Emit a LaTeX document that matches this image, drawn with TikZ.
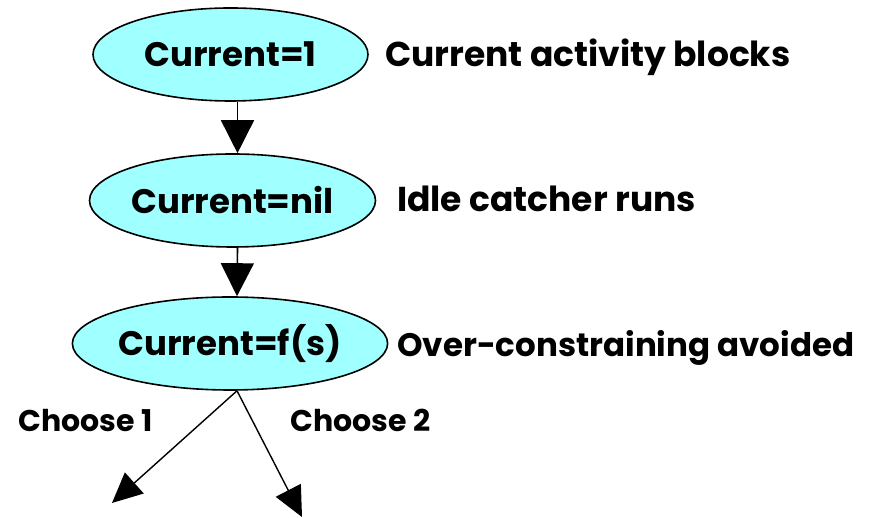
\documentclass[tikz,border=0pt]{standalone}
\usepackage{fontspec}
\setmainfont{Poppins}
\usetikzlibrary{arrows.meta,shapes.geometric}
\definecolor{statefill}{RGB}{160,255,255}
\tikzset{
  state/.style={ellipse, draw=black, line width=1.6pt, fill=statefill,
    minimum width=275pt, minimum height=93pt, inner sep=0pt,
    font=\fontsize{34}{40}\selectfont\bfseries},
  note/.style={anchor=base west, inner sep=0pt, font=\fontsize{34.5}{40}\selectfont\bfseries},
  branchlabel/.style={anchor=base west, inner sep=0pt, font=\fontsize{30}{34}\selectfont\bfseries},
  flow/.style={line width=1.6pt, -{Triangle[length=33pt,width=33pt]}},
  fork/.style={line width=1.4pt, -{Triangle[length=30pt,width=28pt]}}
}
\begin{document}
\begin{tikzpicture}[x=1pt,y=1pt]
  \useasboundingbox (0,0) rectangle (869,518);
  % states
  \node[state] (e1) at (230.5,463.5) {Current=1};
  \node[state] (e2) at (232.5,317.5) {Current=nil};
  \node[state] (e3) at (230,174.5) {Current=f(s)};
  % side notes
  \node[note] (n1) at (385,451) {Current activity blocks};
  \node[note] (n2) at (397,306) {Idle catcher runs};
  \node[note, font=\fontsize{32.5}{38}\selectfont\bfseries] (n3) at (397,161) {Over-constraining avoided};
  % branch labels
  \node[branchlabel] (b1) at (18,86) {Choose 1};
  \node[branchlabel] (b2) at (290,86) {Choose 2};
  % transitions
  \draw[flow] ([xshift=7pt]e1.south) -- ([xshift=5pt]e2.north);
  \draw[flow] ([xshift=5pt]e2.south) -- ([xshift=7pt]e3.north);
  \coordinate (t1) at (112,15);
  \coordinate (t2) at (302,1);
  \draw[fork] ([xshift=7pt]e3.south) -- (t1);
  \draw[fork] ([xshift=7pt]e3.south) -- (t2);
\end{tikzpicture}
\end{document}
